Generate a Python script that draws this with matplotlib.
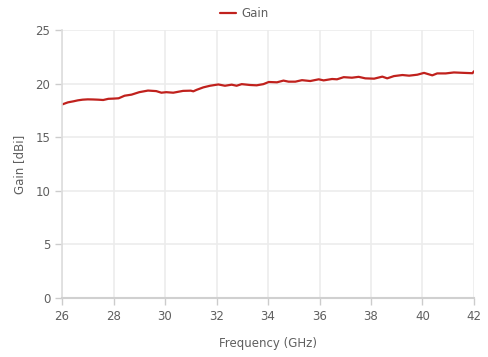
import matplotlib
matplotlib.use("Agg")
import matplotlib.pyplot as plt

freq_ghz = [26.0, 26.23, 26.45, 26.62, 26.8, 27.0, 27.2, 27.4, 27.6, 27.8, 28.0, 28.2,
            28.43, 28.7, 29.0, 29.34, 29.66, 29.86, 30.05, 30.32, 30.7, 31.0, 31.1,
            31.23, 31.49, 31.75, 32.07, 32.33, 32.59, 32.78, 32.98, 33.3, 33.56, 33.82,
            34.03, 34.35, 34.6, 34.8, 35.06, 35.32, 35.64, 35.97, 36.16, 36.49, 36.68,
            36.94, 37.26, 37.52, 37.78, 38.12, 38.44, 38.63, 38.89, 39.22, 39.48, 39.8,
            40.06, 40.38, 40.57, 40.9, 41.22, 41.61, 41.94, 42.0]
gain_dbi = [18.05, 18.25, 18.35, 18.44, 18.5, 18.53, 18.52, 18.5, 18.47, 18.58, 18.6, 18.63,
            18.87, 18.97, 19.2, 19.35, 19.3, 19.15, 19.2, 19.15, 19.32, 19.34, 19.28,
            19.42, 19.65, 19.8, 19.92, 19.8, 19.9, 19.8, 19.95, 19.87, 19.84, 19.95,
            20.15, 20.12, 20.28, 20.18, 20.18, 20.32, 20.24, 20.4, 20.3, 20.43, 20.4,
            20.6, 20.55, 20.63, 20.49, 20.46, 20.65, 20.49, 20.7, 20.8, 20.74, 20.83,
            21.0, 20.77, 20.95, 20.95, 21.04, 21.0, 20.97, 21.15]

x_ticks = [26, 28, 30, 32, 34, 36, 38, 40, 42]
y_ticks = [0, 5, 10, 15, 20, 25]

plt.rcParams['font.family'] = ['DejaVu Sans']
txt = '#5f5f5f'
fig = plt.figure(figsize=(4.89, 3.57), dpi=100)
ax = fig.add_axes([62/489, 59/357, 412/489, 268/357])
ax.plot(freq_ghz, gain_dbi, color='#c0211d', lw=1.6, label='Gain', solid_capstyle='round')
ax.set_xlim(26, 42)
ax.set_ylim(0, 25)
ax.set_xticks(x_ticks)
ax.set_yticks(y_ticks)
ax.grid(True, color='#ececec', lw=1.2)
ax.set_axisbelow(True)
for s in ['top', 'right']:
    ax.spines[s].set_visible(False)
ax.spines['left'].set_color('#dddddd')
ax.spines['bottom'].set_color('#d0d0d0')
ax.spines['left'].set_linewidth(1.2)
ax.spines['bottom'].set_linewidth(1.5)
ax.tick_params(colors='#cccccc', labelcolor=txt, labelsize=8.5, length=5, width=1)
ax.set_xlabel('Frequency (GHz)', color=txt, fontsize=8.5, labelpad=10)
ax.set_ylabel('Gain [dBi]', color=txt, fontsize=8.5, labelpad=7)
leg = fig.legend(loc='upper center', bbox_to_anchor=(0.5, 1.01), frameon=False,
                 fontsize=8.5, handlelength=1.3, handletextpad=0.5)
for t in leg.get_texts():
    t.set_color(txt)
fig.savefig('out.png', dpi=100)
